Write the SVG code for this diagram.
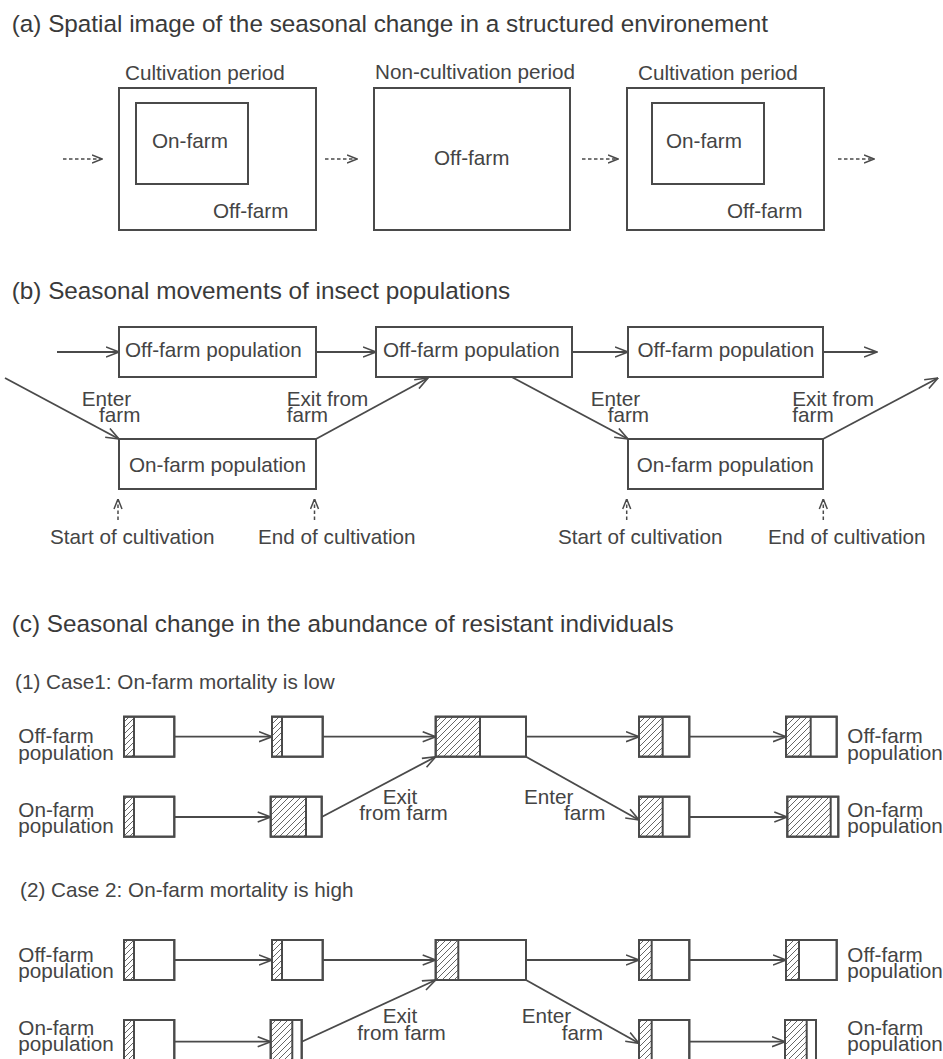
<svg xmlns="http://www.w3.org/2000/svg" width="943" height="1059" viewBox="0 0 943 1059">
<defs>
<style>
text{font-family:"Liberation Sans",Arial,sans-serif;font-size:20.7px;fill:#444}
.title{font-size:24.3px;fill:#3a3a3a}
.box{fill:#fff;stroke:#4a4a4a;stroke-width:2}
.frame{fill:none;stroke:#4a4a4a;stroke-width:2}
.div{stroke:#4a4a4a;stroke-width:2}
.hat{fill:url(#hatch);stroke:none}
.ln{fill:none;stroke:#4a4a4a;stroke-width:1.8;marker-end:url(#ah)}
.dash{fill:none;stroke:#4a4a4a;stroke-width:1.5;stroke-dasharray:3.5 2.5;marker-end:url(#ahs)}
</style>
<pattern id="hatch" patternUnits="userSpaceOnUse" width="6" height="6">
<path d="M-1,7 L7,-1 M-1,1 L1,-1 M5,7 L7,5" stroke="#555" stroke-width="0.9"/>
</pattern>
<marker id="ah" viewBox="0 0 14 12" refX="13.5" refY="6" markerWidth="14" markerHeight="12" markerUnits="userSpaceOnUse" orient="auto">
<path d="M0.5,1 L13.5,6 L0.5,11" fill="none" stroke="#4a4a4a" stroke-width="1.6"/>
</marker>
<marker id="ahs" viewBox="0 0 11 10" refX="10.5" refY="5" markerWidth="11" markerHeight="10" markerUnits="userSpaceOnUse" orient="auto">
<path d="M0.5,1 L10.5,5 L0.5,9" fill="none" stroke="#4a4a4a" stroke-width="1.5"/>
</marker>
</defs>
<rect width="943" height="1059" fill="#fff"/>

<!-- (a) -->
<text class="title" x="11.7" y="31.7">(a) Spatial image of the seasonal change in a structured environement</text>
<g id="a-cult1">
<text x="125" y="80">Cultivation period</text>
<rect class="box" x="119" y="88" width="197" height="142"/>
<rect class="box" x="136" y="103" width="112" height="81"/>
<text x="152" y="148">On-farm</text>
<text x="213" y="218">Off-farm</text>
</g>
<g id="a-noncult">
<text x="375" y="79">Non-cultivation period</text>
<rect class="box" x="374" y="88" width="196" height="142"/>
<text x="434" y="165">Off-farm</text>
</g>
<g id="a-cult2">
<text x="638" y="80">Cultivation period</text>
<rect class="box" x="627" y="88" width="197" height="142"/>
<rect class="box" x="652" y="103" width="112" height="81"/>
<text x="666" y="147.5">On-farm</text>
<text x="727" y="217.5">Off-farm</text>
</g>

<!-- (b) -->
<text class="title" x="11.7" y="299">(b) Seasonal movements of insect populations</text>
<g id="b-off1"><rect class="box" x="119" y="327" width="197" height="50"/><text x="125" y="357">Off-farm population</text></g>
<g id="b-off2"><rect class="box" x="376" y="327" width="196" height="50"/><text x="383" y="357">Off-farm population</text></g>
<g id="b-off3"><rect class="box" x="628" y="327" width="195" height="50"/><text x="637.5" y="357">Off-farm population</text></g>
<g id="b-on1"><rect class="box" x="119" y="439" width="197" height="50"/><text x="129" y="471.7">On-farm population</text></g>
<g id="b-on2"><rect class="box" x="628" y="439" width="195" height="50"/><text x="636.7" y="471.7">On-farm population</text></g>
<g id="b-labels">
<text x="81.7" y="406">Enter<tspan x="99" dy="16">farm</tspan></text>
<text x="286.7" y="406">Exit from<tspan x="286.7" dy="16">farm</tspan></text>
<text x="590.7" y="406">Enter<tspan x="607.7" dy="16">farm</tspan></text>
<text x="792.3" y="406">Exit from<tspan x="792.3" dy="16">farm</tspan></text>
<text x="50" y="544">Start of cultivation</text>
<text x="258" y="544">End of cultivation</text>
<text x="558" y="544">Start of cultivation</text>
<text x="768" y="544">End of cultivation</text>
</g>

<!-- (c) -->
<text class="title" x="11.7" y="632">(c) Seasonal change in the abundance of resistant individuals</text>
<text x="15" y="689">(1) Case1: On-farm mortality is low</text>
<text x="20" y="897">(2) Case 2: On-farm mortality is high</text>

<g id="c1-labels">
<text x="18.3" y="743.3">Off-farm<tspan x="18.3" dy="16.7">population</tspan></text>
<text x="18.3" y="816.7">On-farm<tspan x="18.3" dy="16.6">population</tspan></text>
<text x="847.3" y="743.3">Off-farm<tspan x="847.3" dy="16.7">population</tspan></text>
<text x="847.3" y="816.7">On-farm<tspan x="847.3" dy="16.6">population</tspan></text>
<text x="382.7" y="804">Exit<tspan x="359.3" dy="16">from farm</tspan></text>
<text x="524" y="804">Enter<tspan x="564" dy="16">farm</tspan></text>
</g>
<g id="c1-off-a"><rect class="box" x="124" y="716.7" width="50.3" height="40"/><rect class="hat" x="124" y="716.7" width="10" height="40"/><line class="div" x1="134" y1="716.7" x2="134" y2="756.7"/><rect class="frame" x="124" y="716.7" width="50.3" height="40"/></g>
<g id="c1-off-b"><rect class="box" x="272" y="716.7" width="50.7" height="40"/><rect class="hat" x="272" y="716.7" width="10" height="40"/><line class="div" x1="282" y1="716.7" x2="282" y2="756.7"/><rect class="frame" x="272" y="716.7" width="50.7" height="40"/></g>
<g id="c1-mid"><rect class="box" x="435.7" y="716.7" width="90.3" height="40"/><rect class="hat" x="435.7" y="716.7" width="44.3" height="40"/><line class="div" x1="480" y1="716.7" x2="480" y2="756.7"/><rect class="frame" x="435.7" y="716.7" width="90.3" height="40"/></g>
<g id="c1-off-d"><rect class="box" x="639" y="716.7" width="50.3" height="40"/><rect class="hat" x="639" y="716.7" width="23.7" height="40"/><line class="div" x1="662.7" y1="716.7" x2="662.7" y2="756.7"/><rect class="frame" x="639" y="716.7" width="50.3" height="40"/></g>
<g id="c1-off-e"><rect class="box" x="786" y="716.7" width="50.7" height="40"/><rect class="hat" x="786" y="716.7" width="24.7" height="40"/><line class="div" x1="810.7" y1="716.7" x2="810.7" y2="756.7"/><rect class="frame" x="786" y="716.7" width="50.7" height="40"/></g>
<g id="c1-on-a"><rect class="box" x="124" y="796.7" width="50.3" height="40"/><rect class="hat" x="124" y="796.7" width="10" height="40"/><line class="div" x1="134" y1="796.7" x2="134" y2="836.7"/><rect class="frame" x="124" y="796.7" width="50.3" height="40"/></g>
<g id="c1-on-b"><rect class="box" x="270.7" y="796.7" width="51" height="40"/><rect class="hat" x="270.7" y="796.7" width="35.3" height="40"/><line class="div" x1="306" y1="796.7" x2="306" y2="836.7"/><rect class="frame" x="270.7" y="796.7" width="51" height="40"/></g>
<g id="c1-on-d"><rect class="box" x="639" y="796.7" width="50.3" height="40"/><rect class="hat" x="639" y="796.7" width="23.7" height="40"/><line class="div" x1="662.7" y1="796.7" x2="662.7" y2="836.7"/><rect class="frame" x="639" y="796.7" width="50.3" height="40"/></g>
<g id="c1-on-e"><rect class="box" x="787.3" y="796.7" width="51" height="40"/><rect class="hat" x="787.3" y="796.7" width="43.4" height="40"/><line class="div" x1="830.7" y1="796.7" x2="830.7" y2="836.7"/><rect class="frame" x="787.3" y="796.7" width="51" height="40"/></g>

<g id="c2-labels">
<text x="18.3" y="961.7">Off-farm<tspan x="18.3" dy="16.3">population</tspan></text>
<text x="18.3" y="1035">On-farm<tspan x="18.3" dy="16.3">population</tspan></text>
<text x="847.3" y="961.7">Off-farm<tspan x="847.3" dy="16.3">population</tspan></text>
<text x="847.3" y="1035">On-farm<tspan x="847.3" dy="16.3">population</tspan></text>
<text x="382.7" y="1023.3">Exit<tspan x="357.3" dy="16.7">from farm</tspan></text>
<text x="521.7" y="1023.3">Enter<tspan x="561.7" dy="16.7">farm</tspan></text>
</g>
<g id="c2-off-a"><rect class="box" x="124" y="940" width="50.3" height="40"/><rect class="hat" x="124" y="940" width="10" height="40"/><line class="div" x1="134" y1="940" x2="134" y2="980"/><rect class="frame" x="124" y="940" width="50.3" height="40"/></g>
<g id="c2-off-b"><rect class="box" x="272" y="940" width="50.7" height="40"/><rect class="hat" x="272" y="940" width="10" height="40"/><line class="div" x1="282" y1="940" x2="282" y2="980"/><rect class="frame" x="272" y="940" width="50.7" height="40"/></g>
<g id="c2-mid"><rect class="box" x="435.7" y="940" width="90.3" height="40"/><rect class="hat" x="435.7" y="940" width="22.6" height="40"/><line class="div" x1="458.3" y1="940" x2="458.3" y2="980"/><rect class="frame" x="435.7" y="940" width="90.3" height="40"/></g>
<g id="c2-off-d"><rect class="box" x="639" y="940" width="50.3" height="40"/><rect class="hat" x="639" y="940" width="12.7" height="40"/><line class="div" x1="651.7" y1="940" x2="651.7" y2="980"/><rect class="frame" x="639" y="940" width="50.3" height="40"/></g>
<g id="c2-off-e"><rect class="box" x="786" y="940" width="50.7" height="40"/><rect class="hat" x="786" y="940" width="13" height="40"/><line class="div" x1="799" y1="940" x2="799" y2="980"/><rect class="frame" x="786" y="940" width="50.7" height="40"/></g>
<g id="c2-on-a"><rect class="box" x="124" y="1020" width="50.3" height="40"/><rect class="hat" x="124" y="1020" width="10" height="40"/><line class="div" x1="134" y1="1020" x2="134" y2="1060"/><rect class="frame" x="124" y="1020" width="50.3" height="40"/></g>
<g id="c2-on-b"><rect class="box" x="270.7" y="1020" width="31" height="40"/><rect class="hat" x="270.7" y="1020" width="21.6" height="40"/><line class="div" x1="292.3" y1="1020" x2="292.3" y2="1060"/><rect class="frame" x="270.7" y="1020" width="31" height="40"/></g>
<g id="c2-on-d"><rect class="box" x="639" y="1020" width="50.3" height="40"/><rect class="hat" x="639" y="1020" width="12.7" height="40"/><line class="div" x1="651.7" y1="1020" x2="651.7" y2="1060"/><rect class="frame" x="639" y="1020" width="50.3" height="40"/></g>
<g id="c2-on-e"><rect class="box" x="785" y="1020" width="31" height="40"/><rect class="hat" x="785" y="1020" width="21.7" height="40"/><line class="div" x1="806.7" y1="1020" x2="806.7" y2="1060"/><rect class="frame" x="785" y="1020" width="31" height="40"/></g>

<g id="connectors">
<line class="dash" x1="63" y1="159" x2="102" y2="159"/>
<line class="dash" x1="325" y1="159" x2="357" y2="159"/>
<line class="dash" x1="582" y1="159" x2="618" y2="159"/>
<line class="dash" x1="838" y1="159" x2="874" y2="159"/>

<line class="ln" x1="57" y1="352" x2="119" y2="352"/>
<line class="ln" x1="316" y1="352" x2="376" y2="352"/>
<line class="ln" x1="572" y1="352" x2="628" y2="352"/>
<line class="ln" x1="823" y1="352" x2="877" y2="352"/>
<line class="ln" x1="5" y1="378" x2="119" y2="439"/>
<line class="ln" x1="316" y1="439" x2="428" y2="378"/>
<line class="ln" x1="511.7" y1="377" x2="628" y2="439"/>
<line class="ln" x1="823" y1="439" x2="938" y2="378"/>
<line class="dash" x1="118" y1="520" x2="118" y2="499"/>
<line class="dash" x1="314.5" y1="520" x2="314.5" y2="499"/>
<line class="dash" x1="626.7" y1="520" x2="626.7" y2="499"/>
<line class="dash" x1="823.3" y1="520" x2="823.3" y2="499"/>

<line class="ln" x1="174.3" y1="736.7" x2="272" y2="736.7"/>
<line class="ln" x1="322.7" y1="736.7" x2="435.7" y2="736.7"/>
<line class="ln" x1="526" y1="736.7" x2="639" y2="736.7"/>
<line class="ln" x1="689.3" y1="736.7" x2="786" y2="736.7"/>
<line class="ln" x1="174.3" y1="817" x2="270.7" y2="817"/>
<line class="ln" x1="689.3" y1="817" x2="787.3" y2="817"/>
<line class="ln" x1="321.7" y1="817" x2="435.7" y2="756.7"/>
<line class="ln" x1="526" y1="756.7" x2="639" y2="820"/>

<line class="ln" x1="174.3" y1="960" x2="272" y2="960"/>
<line class="ln" x1="322.7" y1="960" x2="435.7" y2="960"/>
<line class="ln" x1="526" y1="960" x2="639" y2="960"/>
<line class="ln" x1="689.3" y1="960" x2="786" y2="960"/>
<line class="ln" x1="174.3" y1="1041.7" x2="270.7" y2="1041.7"/>
<line class="ln" x1="689.3" y1="1041.7" x2="785" y2="1041.7"/>
<line class="ln" x1="301.7" y1="1041.7" x2="435.7" y2="980"/>
<line class="ln" x1="526" y1="980" x2="639" y2="1043.3"/>
</g>
</svg>
